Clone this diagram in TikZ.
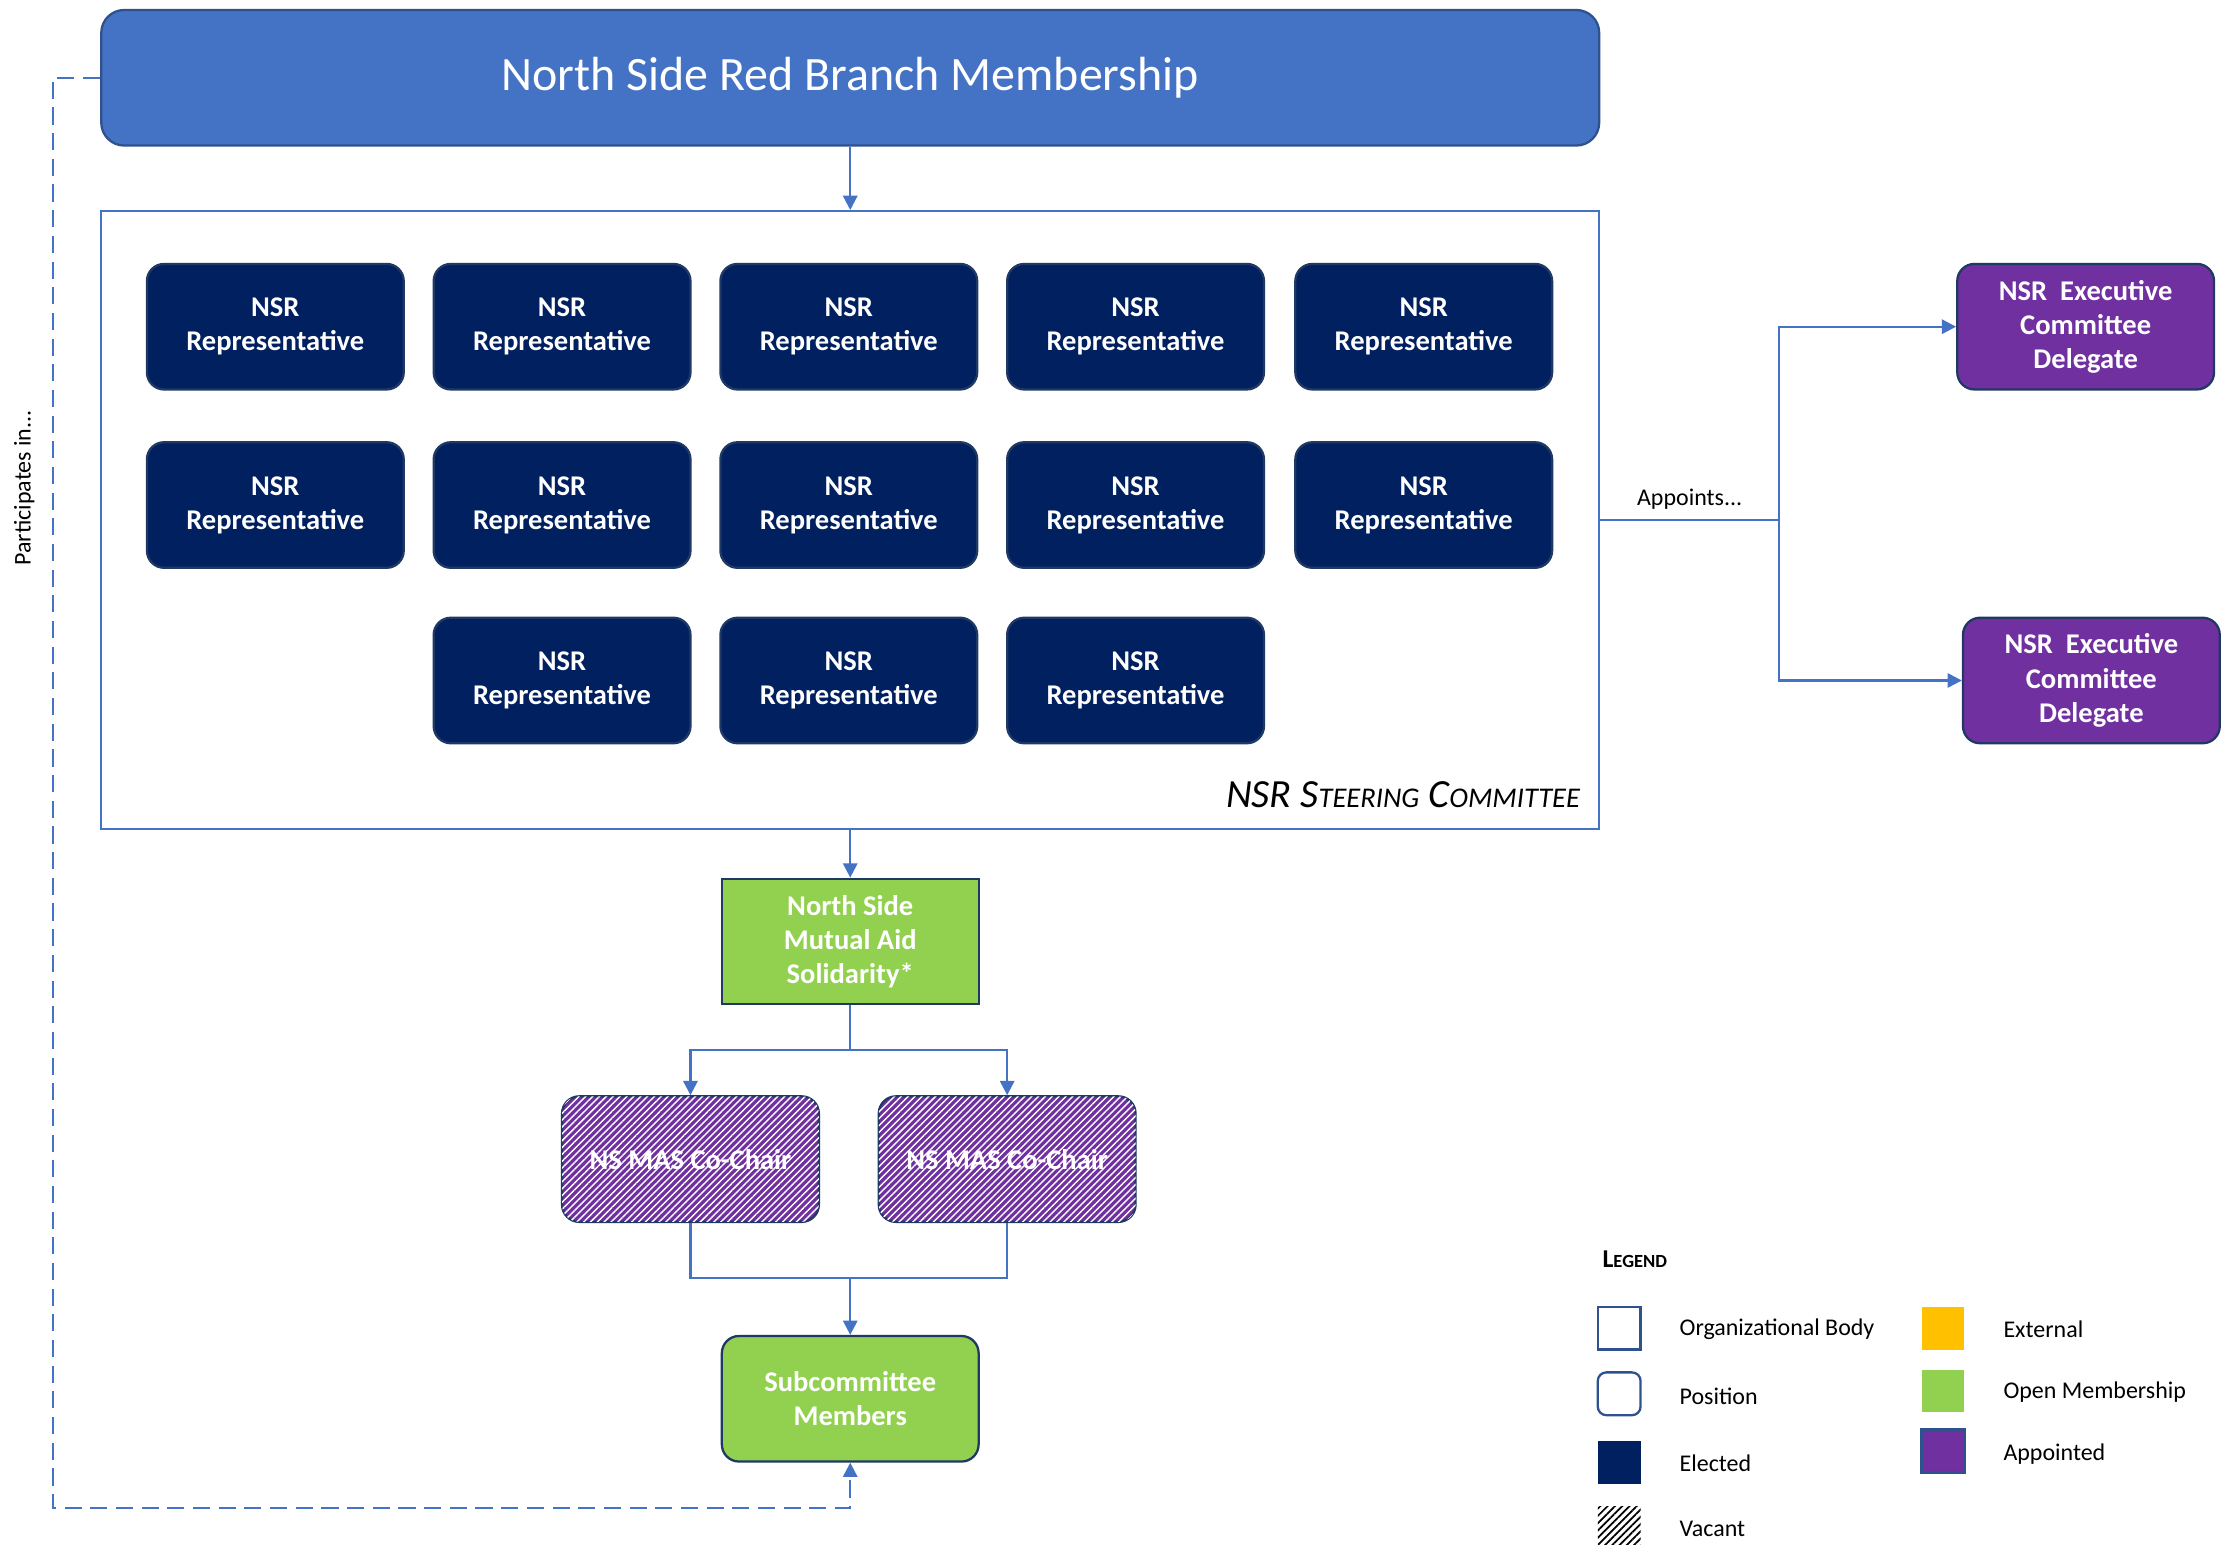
\documentclass[tikz,border=0pt]{standalone}
\usepackage{fontspec}
\setmainfont{Carlito}
\usetikzlibrary{arrows.meta,patterns.meta}
\definecolor{topblue}{HTML}{4472C4}
\definecolor{edgeblue}{HTML}{2F528F}
\definecolor{navy}{HTML}{002060}
\definecolor{darkedge}{HTML}{203864}
\definecolor{opengreen}{HTML}{92D050}
\definecolor{appurple}{HTML}{7030A0}
\definecolor{extorange}{HTML}{FFC000}
\newcommand{\repNode}[3]{
  \node[rep] (#1) at (#2,#3) {NSR\\Representative};
}
\newcommand{\keyLabel}[4]{
  \node[keytext] (#1) at (#2,#3) {#4};
}

\begin{document}
\begin{tikzpicture}[x=0.5pt, y=-0.5pt,
  >={Triangle[length=5pt, width=5pt]},
  link/.style={draw=topblue, line width=0.8pt},
  partline/.style={link, dash pattern=on 6pt off 3pt},
  box/.style={minimum width=90pt, minimum height=44pt, inner sep=0pt, align=center,
    text=white, font=\fontsize{10}{12}\selectfont\bfseries, draw=darkedge, line width=0.8pt},
  rep/.style={box, rounded corners=6pt, fill=navy},
  appt/.style={box, rounded corners=6pt, fill=appurple},
  openbox/.style={box, fill=opengreen},
  vacant/.style={box, rounded corners=6pt, fill=appurple,
    postaction={pattern={Lines[angle=45, distance=1.7pt, line width=0.5pt]}, pattern color=white}},
  key/.style={minimum size=15pt, inner sep=0pt},
  keytext/.style={anchor=west, inner sep=0pt, font=\fontsize{8.4}{10}\selectfont}]
  \useasboundingbox (0,0) rectangle (1566,1083);

  % Nodes
  \node[draw=edgeblue, line width=0.8pt, fill=topblue, rounded corners=8pt,
    minimum width=525pt, minimum height=47.5pt, text=white,
    font=\fontsize{16.8}{20}\selectfont] (nsrb) at (596,54.5) {North Side Red Branch Membership};
  \node[draw=topblue, line width=0.8pt, minimum width=525pt, minimum height=216.5pt] (steer) at (596,364.5) {};
  \node[anchor=base east, inner sep=0pt, font=\fontsize{14}{16}\selectfont\itshape] (steerlbl) at (1108,566)
    {NSR S{\fontsize{10}{12}\selectfont TEERING} C{\fontsize{10}{12}\selectfont OMMITTEE}};

  \repNode{r1}{193}{229}
  \repNode{r2}{394}{229}
  \repNode{r3}{595}{229}
  \repNode{r4}{796}{229}
  \repNode{r5}{998}{229}
  \repNode{r6}{193}{354}
  \repNode{r7}{394}{354}
  \repNode{r8}{595}{354}
  \repNode{r9}{796}{354}
  \repNode{r10}{998}{354}
  \repNode{r11}{394}{477}
  \repNode{r12}{595}{477}
  \repNode{r13}{796}{477}

  \node[appt] (ex1) at (1462,229) {NSR\ \ Executive\\Committee\\Delegate};
  \node[appt] (ex2) at (1466,477) {NSR\ \ Executive\\Committee\\Delegate};

  \node[openbox] (mas) at (596,660) {North Side\\Mutual Aid\\Solidarity*};
  \node[vacant] (cc1) at (484,812.5) {NS MAS Co-Chair};
  \node[vacant] (cc2) at (706,812.5) {NS MAS Co-Chair};
  \node[openbox, rounded corners=6pt] (sub) at (596,980.5) {Subcommittee\\Members};

  % Connectors
  \draw[link, ->] (nsrb.south) -- (steer.north);
  \draw[link, ->] (steer.south) -- (mas.north);
  \coordinate (masj) at (596,736);
  \draw[link, ->] (mas.south) -- (masj) -| (cc1.north);
  \draw[link, ->] (masj) -| (cc2.north);
  \coordinate (ccj) at (596,896);
  \draw[link] (cc1.south) |- (ccj) -| (cc2.south);
  \draw[link, ->] (ccj) -- (sub.north);

  \coordinate (apj) at (1247,364.5);
  \draw[link] (steer.east) -- node[above, font=\fontsize{8.4}{10}\selectfont] (aplbl) {Appoints...} (apj);
  \draw[link, ->] (apj) |- (ex1.west);
  \draw[link, ->] (apj) |- (ex2.west);

  \coordinate (dashc) at (37,1057);
  \draw[partline, ->] (nsrb.west) -| (dashc) -| (sub.south);
  \node[rotate=90, inner sep=0pt, font=\fontsize{8.4}{10}\selectfont] (partlbl) at (17,342) {Participates in...};

  % Legend
  \node[anchor=west, inner sep=0pt, font=\fontsize{9}{10}\selectfont\bfseries] (lgtitle) at (1123,883)
    {L{\fontsize{6.5}{8}\selectfont EGEND}};
  \node[key, draw=edgeblue, line width=0.8pt] (kbody) at (1135,931) {};
  \node[key, draw=edgeblue, line width=0.8pt, rounded corners=3pt] (kpos) at (1135,977) {};
  \node[key, fill=navy] (kelec) at (1135,1025) {};
  \node[key, pattern={Lines[angle=45, distance=1.8pt, line width=0.6pt]}, pattern color=black] (kvac) at (1135,1071) {};
  \node[key, fill=extorange] (kext) at (1362,931) {};
  \node[key, fill=opengreen] (kopen) at (1362,975) {};
  \node[key, fill=appurple, draw=edgeblue, line width=1pt] (kapp) at (1362,1017) {};
  \keyLabel{tbody}{1177}{932}{Organizational Body}
  \keyLabel{tpos}{1177}{979}{Position}
  \keyLabel{telec}{1177}{1026}{Elected}
  \keyLabel{tvac}{1177}{1072}{Vacant}
  \keyLabel{text}{1404}{932}{External}
  \keyLabel{topen}{1404}{976}{Open Membership}
  \keyLabel{tapp}{1404}{1019}{Appointed}
\end{tikzpicture}
\end{document}
